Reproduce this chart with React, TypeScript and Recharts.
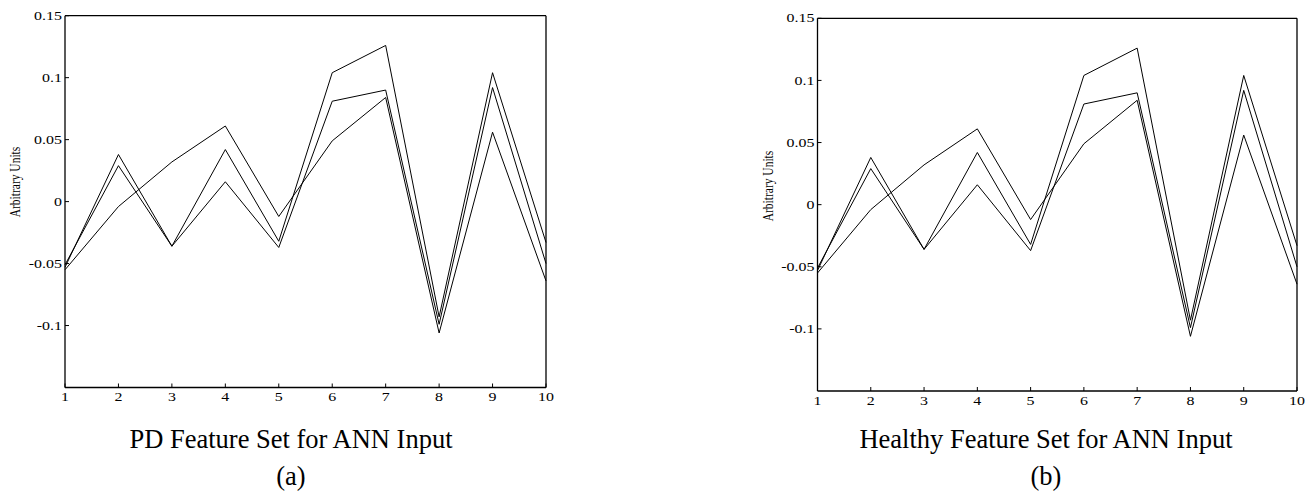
import { LineChart, Line, XAxis, YAxis } from 'recharts';

// feature index on x, three feature vectors (both panels show the same curves)
const features = [1, 2, 3, 4, 5, 6, 7, 8, 9, 10];
const seriesA = [-0.053, 0.038, -0.036, 0.042, -0.032, 0.104, 0.126, -0.093, 0.104, -0.033];
const seriesB = [-0.051, 0.029, -0.036, 0.016, -0.037, 0.081, 0.09, -0.099, 0.092, -0.05];
const seriesC = [-0.055, -0.004, 0.032, 0.061, -0.012, 0.049, 0.084, -0.106, 0.056, -0.064];
const yTicks = [-0.1, -0.05, 0, 0.05, 0.1, 0.15];
const yTicksRight = [-0.15, -0.1, -0.05, 0, 0.05, 0.1, 0.15];

const data = features.map((x, i) => ({ x, a: seriesA[i], b: seriesB[i], c: seriesC[i] }));

const FONT = '"Liberation Serif", "Times New Roman", serif';
const SX = 1.33; // the plot image in the source is stretched sideways

const fmtY = (v: number) => String(Math.round(v * 100) / 100);

function XTick(props: any) {
  const { x, y, payload } = props;
  return (
    <g transform={`translate(${x},${y}) scale(${SX},1)`}>
      <text x={0} y={0} dy="0.71em" textAnchor="middle" fontSize={12} fontFamily={FONT} fill="#000">
        {payload.value}
      </text>
    </g>
  );
}

function YTick(props: any) {
  const { x, y, payload } = props;
  return (
    <g transform={`translate(${x},${y}) scale(${SX},1)`}>
      <text x={0} y={0} dy="0.34em" textAnchor="end" fontSize={12} fontFamily={FONT} fill="#000">
        {fmtY(payload.value)}
      </text>
    </g>
  );
}

interface PanelProps {
  left: number;
  width: number;
  height: number;
  margin: { top: number; right: number; bottom: number; left: number };
  ylabelX: number;
  ylabelY: number;
  titleX: number;
  title: string;
  letter: string;
}

function Panel({ left, width, height, margin, ylabelX, ylabelY, titleX, title, letter }: PanelProps) {
  const axis = { stroke: '#000', strokeWidth: 1.3 };
  return (
    <>
      <div style={{ position: 'absolute', left, top: 0 }}>
        <LineChart width={width} height={height} data={data} margin={margin}>
          <XAxis
            dataKey="x"
            type="number"
            domain={[1, 10]}
            ticks={features}
            height={30}
            axisLine={axis}
            tickLine={{ stroke: '#000' }}
            tickSize={-4}
            tickMargin={9}
            tick={<XTick />}
          />
          <XAxis
            xAxisId="top"
            orientation="top"
            dataKey="x"
            type="number"
            domain={[1, 10]}
            ticks={features}
            height={1}
            axisLine={axis}
            tickLine={{ stroke: '#000' }}
            tickSize={-4}
            tick={false}
          />
          <YAxis
            type="number"
            domain={[-0.15, 0.15]}
            ticks={yTicks}
            width={50}
            allowDataOverflow
            axisLine={axis}
            tickLine={{ stroke: '#000' }}
            tickSize={-4}
            tickMargin={7}
            tick={<YTick />}
          />
          <YAxis
            yAxisId="right"
            orientation="right"
            type="number"
            domain={[-0.15, 0.15]}
            ticks={yTicksRight}
            width={1}
            axisLine={axis}
            tickLine={{ stroke: '#000' }}
            tickSize={-4}
            tick={false}
          />
          <Line dataKey="a" stroke="#000" strokeWidth={1} dot={false} isAnimationActive={false} />
          <Line dataKey="b" stroke="#000" strokeWidth={1} dot={false} isAnimationActive={false} />
          <Line dataKey="c" stroke="#000" strokeWidth={1} dot={false} isAnimationActive={false} />
        </LineChart>
      </div>
      <div
        style={{
          position: 'absolute',
          left: ylabelX - 100,
          top: ylabelY - 8,
          width: 200,
          height: 16,
          lineHeight: '16px',
          textAlign: 'center',
          fontFamily: FONT,
          fontSize: 11.5,
          color: '#000',
          transform: `scaleX(${SX}) rotate(-90deg)`,
          whiteSpace: 'nowrap',
        }}
      >
        Arbitrary Units
      </div>
      <div
        style={{
          position: 'absolute',
          left: titleX - 300,
          top: 421,
          width: 600,
          textAlign: 'center',
          fontFamily: FONT,
          fontSize: 26.5,
          lineHeight: '37px',
          color: '#000',
          whiteSpace: 'nowrap',
        }}
      >
        <div>{title}</div>
        <div>{letter}</div>
      </div>
    </>
  );
}

export default function App() {
  return (
    <div style={{ position: 'absolute', left: 0, top: 0, width: 1314, height: 497, background: '#fff', overflow: 'hidden' }}>
      <Panel
        left={0}
        width={560}
        height={420}
        margin={{ top: 14.7, right: 13, left: 15, bottom: 2.5 }}
        ylabelX={15}
        ylabelY={182}
        titleX={291}
        title="PD Feature Set for ANN Input"
        letter="(a)"
      />
      <Panel
        left={760}
        width={550}
        height={425}
        margin={{ top: 17.3, right: 12, left: 7.5, bottom: 4 }}
        ylabelX={768}
        ylabelY={186}
        titleX={1046}
        title="Healthy Feature Set for ANN Input"
        letter="(b)"
      />
    </div>
  );
}
